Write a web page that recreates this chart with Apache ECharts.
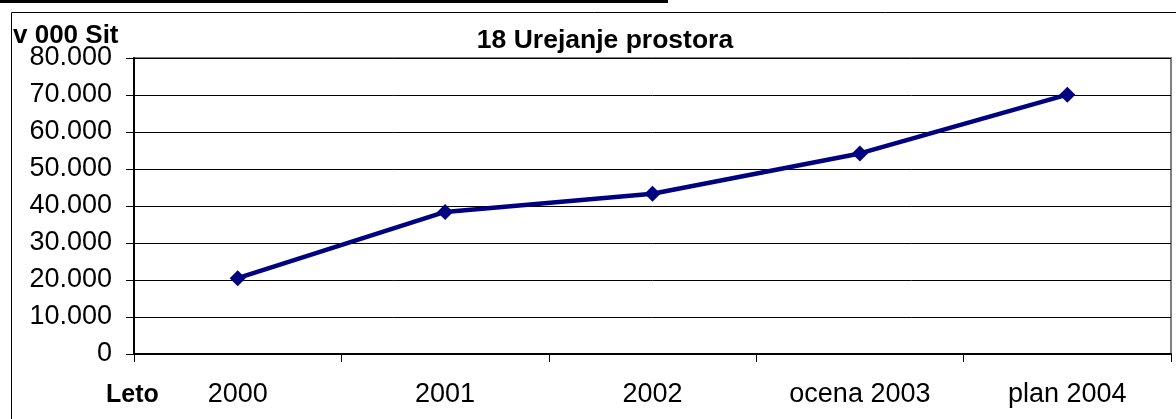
<!DOCTYPE html>
<html>
<head>
<meta charset="utf-8">
<script src="https://cdn.jsdelivr.net/npm/echarts@6/dist/echarts.min.js"></script>
<style>
html,body{margin:0;padding:0;background:#fff;}
#chart{width:1176px;height:419px;}
</style>
</head>
<body>
<div id="chart"></div>
<script>
const categories = ['2000', '2001', '2002', 'ocena 2003', 'plan 2004'];
const values = [20500, 38400, 43300, 54200, 70100];
const chartTitle = '18 Urejanje prostora';
const unitLabel = 'v 000 Sit';
const axisName = 'Leto';

const FONT = '"Liberation Sans", Arial, sans-serif';
const chart = echarts.init(document.getElementById('chart'), null, {renderer: 'canvas'});

function fmt(v) {
  return String(v).replace(/\B(?=(\d{3})+(?!\d))/g, '.');
}

chart.setOption({
  animation: false,
  backgroundColor: '#ffffff',
  title: {
    text: chartTitle,
    left: 600, top: 22, textAlign: 'center',
    textStyle: {fontFamily: FONT, fontWeight: 'bold', fontSize: 26.5, color: '#000'}
  },
  grid: {
    left: 134, right: 5, top: 58, bottom: 65,
    show: true, borderColor: '#808080', borderWidth: 2, backgroundColor: 'transparent'
  },
  xAxis: {
    type: 'category',
    data: categories,
    boundaryGap: true,
    axisLine: {lineStyle: {color: '#000', width: 2}},
    axisTick: {show: true, interval: 0, length: 8, lineStyle: {color: '#000', width: 1}},
    axisLabel: {interval: 0, margin: 27, fontFamily: FONT, fontSize: 27, color: '#000'}
  },
  yAxis: {
    type: 'value',
    min: 0, max: 80000, interval: 10000,
    axisLine: {show: true, lineStyle: {color: '#000', width: 2}},
    axisTick: {show: true, length: 8, lineStyle: {color: '#000', width: 1}},
    splitLine: {show: true, lineStyle: {color: '#000', width: 1}},
    axisLabel: {margin: 22, fontFamily: FONT, fontSize: 27, color: '#000', formatter: fmt}
  },
  series: [{
    type: 'line',
    data: values,
    symbol: 'diamond',
    symbolSize: 16,
    lineStyle: {color: '#000080', width: 4.5},
    itemStyle: {color: '#000080'}
  }],
  graphic: [
    {type: 'rect', shape: {x: 0, y: 0, width: 668, height: 3}, style: {fill: '#000'}, z: 10},
    {type: 'rect', shape: {x: 11.5, y: 12.5, width: 1170, height: 420}, style: {fill: 'none', stroke: '#000', lineWidth: 1}, z: 10},
    {type: 'text', left: 13, top: 23, style: {text: unitLabel, font: 'bold 26px ' + FONT, fill: '#000'}, z: 10},
    {type: 'text', left: 106, top: 383, style: {text: axisName, font: 'bold 25px ' + FONT, fill: '#000'}, z: 10}
  ]
});
</script>
</body>
</html>
